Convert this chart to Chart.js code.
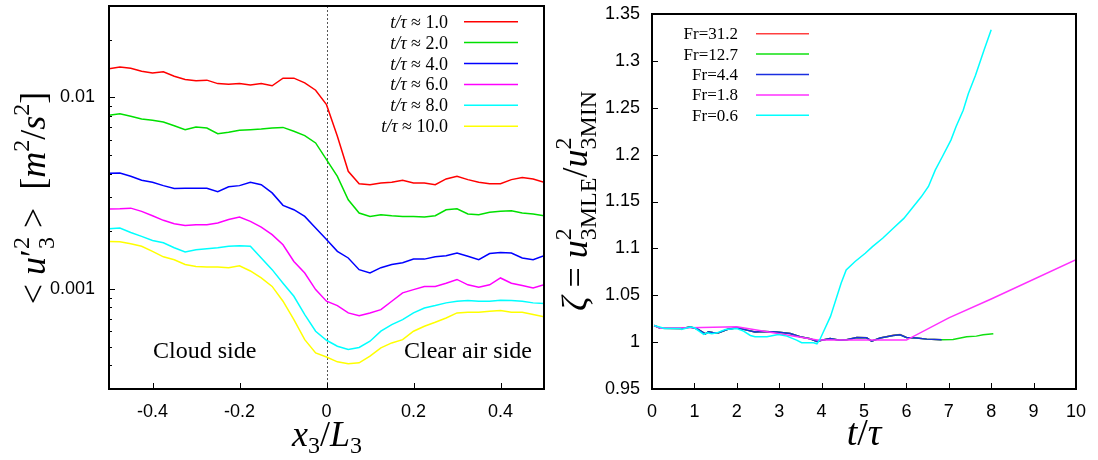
<!DOCTYPE html>
<html>
<head>
<meta charset="utf-8">
<script src="https://cdn.jsdelivr.net/npm/chart.js@4.4.1/dist/chart.umd.min.js"></script>
<style>
html, body { margin: 0; padding: 0; background: #fff; }
#wrap { position: relative; width: 1098px; height: 460px; }
#left { position: absolute; left: 0; top: 0; }
#right { position: absolute; left: 550px; top: 0; }
</style>
</head>
<body>
<div id="wrap">
  <canvas id="left" width="550" height="460"></canvas>
  <canvas id="right" width="548" height="460"></canvas>
</div>
<script>
var SANS = '"Liberation Sans", Arial, sans-serif';
var SERIF = '"Liberation Serif", "Times New Roman", serif';
Chart.defaults.font.family = SANS;
Chart.defaults.color = '#000';

// ---- left panel: <u3'^2> profiles across the interface ----
var xPos = [-0.5, -0.475, -0.45, -0.425, -0.4, -0.375, -0.35, -0.325, -0.3, -0.275,
            -0.25, -0.225, -0.2, -0.175, -0.15, -0.125, -0.1, -0.075, -0.05, -0.025,
            0, 0.025, 0.05, 0.075, 0.1, 0.125, 0.15, 0.175, 0.2, 0.225,
            0.25, 0.275, 0.3, 0.325, 0.35, 0.375, 0.4, 0.425, 0.45, 0.475, 0.5];
var u2_t1 = [0.0141, 0.0144, 0.0142, 0.0137, 0.0134, 0.0136, 0.0129, 0.0124, 0.0122, 0.0123,
             0.0118, 0.0117, 0.0118, 0.0116, 0.0118, 0.0115, 0.0126, 0.0126, 0.0119, 0.0109,
             0.00916, 0.00626, 0.00411, 0.00354, 0.00350, 0.00357, 0.00360, 0.00369, 0.00357, 0.00357,
             0.00350, 0.00375, 0.00387, 0.00372, 0.00360, 0.00354, 0.00354, 0.00372, 0.00382, 0.00375, 0.00360];
var u2_t2 = [0.00806, 0.00822, 0.00796, 0.00771, 0.00759, 0.00743, 0.00711, 0.00678, 0.00700, 0.00692,
             0.00646, 0.00657, 0.00673, 0.00678, 0.00683, 0.00692, 0.00697, 0.00665, 0.00631, 0.00578,
             0.00473, 0.00387, 0.00292, 0.00249, 0.00239, 0.00244, 0.00241, 0.00239, 0.00239, 0.00237,
             0.00241, 0.00259, 0.00262, 0.00246, 0.00244, 0.00251, 0.00254, 0.00256, 0.00249, 0.00246, 0.00241];
var u2_t4 = [0.00401, 0.00403, 0.00387, 0.00369, 0.00360, 0.00346, 0.00334, 0.00335, 0.00335, 0.00335,
             0.00322, 0.00341, 0.00346, 0.00360, 0.00350, 0.00317, 0.00273, 0.00259, 0.00239, 0.00208,
             0.00181, 0.00157, 0.00145, 0.00126, 0.00121, 0.00129, 0.00134, 0.00137, 0.00143, 0.00143,
             0.00147, 0.00149, 0.00154, 0.00148, 0.00142, 0.00153, 0.00155, 0.00154, 0.00145, 0.00142, 0.00149];
var u2_t6 = [0.00261, 0.00262, 0.00264, 0.00254, 0.00241, 0.00228, 0.00219, 0.00214, 0.00216, 0.00216,
             0.00221, 0.00230, 0.00237, 0.00225, 0.00210, 0.00192, 0.00170, 0.00139, 0.00121, 0.000991,
             0.000862, 0.000818, 0.000749, 0.000725, 0.000749, 0.000779, 0.000862, 0.000953, 0.000991, 0.00103,
             0.00103, 0.00107, 0.00112, 0.00105, 0.00102, 0.00105, 0.00114, 0.00107, 0.00104, 0.00101, 0.00105];
var u2_t8 = [0.00206, 0.00208, 0.00197, 0.00188, 0.00179, 0.00174, 0.00164, 0.00156, 0.00160, 0.00162,
             0.00164, 0.00167, 0.00168, 0.00167, 0.00145, 0.00126, 0.00107, 0.000915, 0.000734, 0.000601,
             0.000539, 0.000502, 0.000482, 0.000494, 0.000533, 0.000601, 0.000651, 0.000691, 0.000749, 0.000795,
             0.000818, 0.000845, 0.000862, 0.000869, 0.000862, 0.000862, 0.000872, 0.000869, 0.000862, 0.000845, 0.000838];
var u2_t10 = [0.00177, 0.00176, 0.00172, 0.00167, 0.00157, 0.00147, 0.00142, 0.00134, 0.00131, 0.00130,
              0.00130, 0.00129, 0.00132, 0.00124, 0.00114, 0.00103, 0.000862, 0.000691, 0.000543, 0.000463,
              0.000441, 0.000416, 0.000406, 0.000411, 0.000445, 0.000492, 0.000522, 0.000543, 0.000601, 0.000638,
              0.000669, 0.000705, 0.000749, 0.000755, 0.000755, 0.000764, 0.000772, 0.000755, 0.000755, 0.000734, 0.000714];
var leftLabels = ['1.0', '2.0', '4.0', '6.0', '8.0', '10.0'];
var leftColors = ['#ff0000', '#00e000', '#0000ff', '#ff00ff', '#00ffff', '#ffff00'];
var leftXTicks = [-0.4, -0.2, 0, 0.2, 0.4];
var leftYTicks = [0.0003, 0.0004, 0.0005, 0.0006, 0.0007, 0.0008, 0.0009, 0.001,
                  0.002, 0.003, 0.004, 0.005, 0.006, 0.007, 0.008, 0.009, 0.01, 0.02, 0.03];
var leftYLabels = { '0.001': '0.001', '0.01': '0.01' };

// ---- right panel: zeta vs t/tau ----
var t_fr31 = [0.05, 0.2, 0.7, 0.9, 1.06, 1.26, 1.33, 1.45, 1.57, 1.77, 2.0, 2.24, 2.43, 2.63, 2.94, 3.26,
              3.49, 3.73, 3.89, 4.0, 4.2, 4.43, 4.59, 4.83, 5.06, 5.18, 5.38, 5.69, 5.85, 6.0, 6.24, 6.48, 6.83];
var z_fr31 = [1.0178, 1.0149, 1.0146, 1.0160, 1.0142, 1.0089, 1.0110, 1.0099, 1.0099, 1.0135, 1.0153, 1.0128,
              1.0107, 1.0114, 1.0107, 1.0092, 1.0057, 1.0036, 1.0007, 1.0021, 1.0039, 1.0021, 1.0025, 1.0050,
              1.0046, 1.0011, 1.0043, 1.0073, 1.0082, 1.0050, 1.0043, 1.0032, 1.0025];
var t_fr12 = [0.05, 0.2, 0.7, 0.9, 1.06, 1.26, 1.33, 1.45, 1.57, 1.77, 2.0, 2.24, 2.43, 2.63, 2.94, 3.26,
              3.49, 3.73, 3.89, 4.0, 4.2, 4.43, 4.59, 4.83, 5.06, 5.18, 5.38, 5.69, 5.85, 6.0, 6.24, 6.48, 6.83,
              7.1, 7.42, 7.65, 7.81, 8.05];
var z_fr12 = [1.0178, 1.0149, 1.0146, 1.0160, 1.0142, 1.0089, 1.0110, 1.0099, 1.0099, 1.0135, 1.0153, 1.0128,
              1.0107, 1.0114, 1.0107, 1.0092, 1.0057, 1.0036, 1.0007, 1.0021, 1.0039, 1.0021, 1.0025, 1.0050,
              1.0046, 1.0011, 1.0043, 1.0071, 1.0078, 1.0050, 1.0043, 1.0032, 1.0025,
              1.0028, 1.0057, 1.0064, 1.0078, 1.0089];
var t_fr4 = [0.05, 0.2, 0.7, 0.9, 1.06, 1.26, 1.33, 1.45, 1.57, 1.77, 2.0, 2.24, 2.43, 2.63, 2.94, 3.26,
             3.49, 3.73, 3.89, 4.0, 4.2, 4.43, 4.59, 4.83, 5.06, 5.18, 5.38, 5.69, 5.85, 6.0, 6.24, 6.48, 6.83];
var z_fr4 = [1.0178, 1.0149, 1.0146, 1.0160, 1.0142, 1.0089, 1.0110, 1.0099, 1.0099, 1.0135, 1.0153, 1.0128,
             1.0107, 1.0114, 1.0107, 1.0092, 1.0057, 1.0036, 1.0007, 1.0021, 1.0039, 1.0021, 1.0025, 1.0050,
             1.0046, 1.0011, 1.0043, 1.0071, 1.0078, 1.0050, 1.0043, 1.0032, 1.0025];
var t_fr1 = [0.05, 0.2, 0.9, 2.0, 3.9, 6.0, 7.0, 8.0, 10.0];
var z_fr1 = [1.0178, 1.0149, 1.0153, 1.0163, 1.0022, 1.0022, 1.0258, 1.046, 1.088];
var t_fr06 = [0.05, 0.3, 0.67, 0.7, 0.9, 1.0, 1.22, 1.3, 1.41, 1.53, 1.73, 2.0, 2.16, 2.32, 2.43, 2.71, 2.86,
              2.98, 3.18, 3.41, 3.53, 3.81, 3.89, 3.96, 4.21, 4.46, 4.58, 4.79, 5.03, 5.2, 5.44, 5.69, 5.94,
              6.1, 6.35, 6.52, 6.68, 6.85, 7.05, 7.17, 7.34, 7.46, 7.63, 7.83, 8.0];
var z_fr06 = [1.0178, 1.0146, 1.0146, 1.0135, 1.0160, 1.0153, 1.0082, 1.0099, 1.0089, 1.0099, 1.0135, 1.0146,
              1.0117, 1.0071, 1.0057, 1.0057, 1.0071, 1.0082, 1.0064, 1.0021, 0.9993, 0.9993, 0.9982, 1.0028,
              1.0274, 1.0629, 1.077, 1.086, 1.0948, 1.1019, 1.1108, 1.1214, 1.132, 1.141, 1.155, 1.166,
              1.1835, 1.198, 1.2155, 1.2297, 1.2474, 1.265, 1.2847, 1.3113, 1.3333];
var rightLabels = ['31.2', '12.7', '4.4', '1.8', '0.6'];
var rightColors = ['#ff4040', '#10e010', '#1a2ee0', '#ff30ff', '#00ffff'];
var rightXTicks = [0, 1, 2, 3, 4, 5, 6, 7, 8, 9, 10];
var rightYTicks = [0.95, 1, 1.05, 1.1, 1.15, 1.2, 1.25, 1.3, 1.35];
var rightYLabels = ['0.95', '1', '1.05', '1.1', '1.15', '1.2', '1.25', '1.3', '1.35'];

function series(xs, ys, color, order) {
  return {
    data: xs.map(function(x, i) { return { x: x, y: ys[i] }; }),
    borderColor: color, borderWidth: 1.5, pointRadius: 0, tension: 0,
    fill: false, order: order
  };
}

// text made of runs with different fonts / baseline shifts
function drawRuns(ctx, runs, x, y, align) {
  var w = 0, items = [];
  runs.forEach(function(r) {
    ctx.font = r.f;
    var rw = ctx.measureText(r.t).width;
    if (r.stack) {
      var prev = items[items.length - 1];
      items.push({ r: r, x: prev.x });
      w = Math.max(w, prev.x + rw);
    } else {
      items.push({ r: r, x: w });
      w += rw;
    }
  });
  var x0 = align === 'right' ? x - w : (align === 'center' ? x - w / 2 : x);
  items.forEach(function(it) {
    ctx.font = it.r.f;
    ctx.fillText(it.r.t, x0 + it.x, y + (it.r.dy || 0));
  });
}

function frameAndTicks(chart, yMajor) {
  var ctx = chart.ctx, ca = chart.chartArea;
  var xs = chart.scales.x, ys = chart.scales.y;
  ctx.save();
  ctx.strokeStyle = '#000';
  ctx.lineWidth = 1;
  ys.ticks.forEach(function(t) {
    var py = Math.round(ys.getPixelForValue(t.value)) + 0.5;
    var len = yMajor(t.value) ? 6 : 3;
    ctx.beginPath(); ctx.moveTo(ca.left, py); ctx.lineTo(ca.left + len, py); ctx.stroke();
  });
  xs.ticks.forEach(function(t) {
    var px = Math.round(xs.getPixelForValue(t.value)) + 0.5;
    ctx.beginPath(); ctx.moveTo(px, ca.bottom); ctx.lineTo(px, ca.bottom - 6); ctx.stroke();
  });
  ctx.lineWidth = 2;
  ctx.strokeRect(ca.left, ca.top, ca.right - ca.left, ca.bottom - ca.top);
  ctx.restore();
}

function noPadX(s) { s.height = 71; s.paddingLeft = 0; s.paddingRight = 0; }

var I36 = 'italic 36px ' + SERIF, R36 = '36px ' + SERIF, S24 = '24px ' + SERIF;

var leftPlugin = {
  id: 'leftDecor',
  beforeDatasetsDraw: function(chart) {
    var ctx = chart.ctx, ca = chart.chartArea;
    var px = Math.round(chart.scales.x.getPixelForValue(0)) + 0.5;
    ctx.save();
    ctx.strokeStyle = '#555'; ctx.lineWidth = 1; ctx.setLineDash([2, 2]);
    ctx.beginPath(); ctx.moveTo(px, ca.top); ctx.lineTo(px, ca.bottom); ctx.stroke();
    ctx.restore();
  },
  afterDraw: function(chart) {
    var ctx = chart.ctx;
    frameAndTicks(chart, function(v) { return leftYLabels[String(v)] !== undefined; });
    ctx.save();
    ctx.fillStyle = '#000';
    ctx.textBaseline = 'alphabetic';
    // legend
    leftLabels.forEach(function(lbl, i) {
      var ry = 21.7 + i * 20.9;
      drawRuns(ctx, [{ t: 't/τ', f: 'italic 18px ' + SERIF }, { t: ' ≈ ' + lbl, f: '18px ' + SERIF }], 448, ry + 6, 'right');
      ctx.strokeStyle = leftColors[i]; ctx.lineWidth = 1.5;
      ctx.beginPath(); ctx.moveTo(464, ry); ctx.lineTo(518, ry); ctx.stroke();
    });
    // annotations
    ctx.font = '24px ' + SERIF;
    ctx.fillText('Cloud side', 153, 358);
    ctx.fillText('Clear air side', 404, 358);
    // x title
    drawRuns(ctx, [{ t: 'x', f: 'italic 36px ' + SERIF }, { t: '3', f: '24px ' + SERIF, dy: 7 },
                   { t: '/', f: '36px ' + SERIF }, { t: 'L', f: 'italic 36px ' + SERIF },
                   { t: '3', f: '24px ' + SERIF, dy: 7 }], 327, 446, 'center');
    // y title
    ctx.translate(33, 198);
    ctx.rotate(-Math.PI / 2);
    drawRuns(ctx, [{ t: '<', f: R36 }, { t: ' ', f: R36 }, { t: 'u', f: I36 }, { t: '′', f: R36 },
                   { t: '2', f: S24, dy: -16 }, { t: '3', f: S24, dy: 9, stack: true },
                   { t: ' >', f: R36 }, { t: '  [', f: R36 }, { t: 'm', f: I36 }, { t: '2', f: S24, dy: -16 },
                   { t: '/', f: R36 }, { t: 's', f: I36 }, { t: '2', f: S24, dy: -16 }, { t: ']', f: R36 }],
             0, 12, 'center');
    ctx.restore();
  }
};

var rightPlugin = {
  id: 'rightDecor',
  afterDraw: function(chart) {
    var ctx = chart.ctx;
    frameAndTicks(chart, function() { return true; });
    ctx.save();
    ctx.fillStyle = '#000';
    ctx.textBaseline = 'alphabetic';
    rightLabels.forEach(function(lbl, i) {
      var ry = 33.7 + i * 20.4;
      drawRuns(ctx, [{ t: 'Fr=' + lbl, f: '17px ' + SERIF }], 188, ry + 5.5, 'right');
      ctx.strokeStyle = rightColors[i]; ctx.lineWidth = 1.5;
      ctx.beginPath(); ctx.moveTo(206, ry); ctx.lineTo(259, ry); ctx.stroke();
    });
    drawRuns(ctx, [{ t: 't', f: 'italic 38px ' + SERIF }, { t: '/', f: '38px ' + SERIF },
                   { t: 'τ', f: 'italic 38px ' + SERIF }], 314, 445, 'center');
    ctx.translate(25, 201);
    ctx.rotate(-Math.PI / 2);
    drawRuns(ctx, [{ t: 'ζ', f: I36 }, { t: ' = ', f: R36 }, { t: 'u', f: I36 },
                   { t: '2', f: S24, dy: -16 }, { t: '3MLE', f: S24, dy: 9, stack: true },
                   { t: '/', f: R36 }, { t: 'u', f: I36 },
                   { t: '2', f: S24, dy: -16 }, { t: '3MIN', f: S24, dy: 9, stack: true }],
             0, 12, 'center');
    ctx.restore();
  }
};

var tickFont = { family: SANS, size: 18 };

new Chart('left', {
  type: 'line',
  data: {
    datasets: [
      series(xPos, u2_t1, leftColors[0], 0),
      series(xPos, u2_t2, leftColors[1], 1),
      series(xPos, u2_t4, leftColors[2], 2),
      series(xPos, u2_t6, leftColors[3], 3),
      series(xPos, u2_t8, leftColors[4], 4),
      series(xPos, u2_t10, leftColors[5], 5)
    ]
  },
  options: {
    responsive: false,
    animation: false,
    layout: { padding: { left: 0, right: 6, top: 6, bottom: 0 } },
    plugins: { legend: { display: false }, tooltip: { enabled: false } },
    scales: {
      x: {
        type: 'linear', min: -0.5, max: 0.5,
        grid: { display: false, drawTicks: false }, border: { display: false },
        afterBuildTicks: function(s) { s.ticks = leftXTicks.map(function(v) { return { value: v }; }); },
        afterFit: noPadX,
        ticks: { font: tickFont, color: '#000', padding: 12, autoSkip: false, maxRotation: 0,
                 callback: function(v) { return String(v); } }
      },
      y: {
        type: 'logarithmic', min: 0.0003, max: 0.03,
        grid: { display: false, drawTicks: false }, border: { display: false },
        afterBuildTicks: function(s) { s.ticks = leftYTicks.map(function(v) { return { value: v }; }); },
        afterFit: function(s) { s.width = 109; s.paddingTop = 0; s.paddingBottom = 0; },
        ticks: { font: tickFont, color: '#000', padding: 14, autoSkip: false,
                 callback: function(v) { return leftYLabels[String(v)] || ''; } }
      }
    }
  },
  plugins: [leftPlugin]
});

new Chart('right', {
  type: 'line',
  data: {
    datasets: [
      series(t_fr31, z_fr31, rightColors[0], 5),
      series(t_fr12, z_fr12, rightColors[1], 4),
      series(t_fr4, z_fr4, rightColors[2], 3),
      series(t_fr1, z_fr1, rightColors[3], 2),
      series(t_fr06, z_fr06, rightColors[4], 1)
    ]
  },
  options: {
    responsive: false,
    animation: false,
    layout: { padding: { left: 0, right: 22, top: 14, bottom: 0 } },
    plugins: { legend: { display: false }, tooltip: { enabled: false } },
    scales: {
      x: {
        type: 'linear', min: 0, max: 10,
        grid: { display: false, drawTicks: false }, border: { display: false },
        afterBuildTicks: function(s) { s.ticks = rightXTicks.map(function(v) { return { value: v }; }); },
        afterFit: noPadX,
        ticks: { font: tickFont, color: '#000', padding: 12, autoSkip: false, maxRotation: 0,
                 callback: function(v) { return String(v); } }
      },
      y: {
        type: 'linear', min: 0.95, max: 1.35,
        grid: { display: false, drawTicks: false }, border: { display: false },
        afterBuildTicks: function(s) { s.ticks = rightYTicks.map(function(v) { return { value: v }; }); },
        afterFit: function(s) { s.width = 102; s.paddingTop = 0; s.paddingBottom = 0; },
        ticks: { font: tickFont, color: '#000', padding: 12, autoSkip: false,
                 callback: function(v, i) { return rightYLabels[i]; } }
      }
    }
  },
  plugins: [rightPlugin]
});
</script>
</body>
</html>
